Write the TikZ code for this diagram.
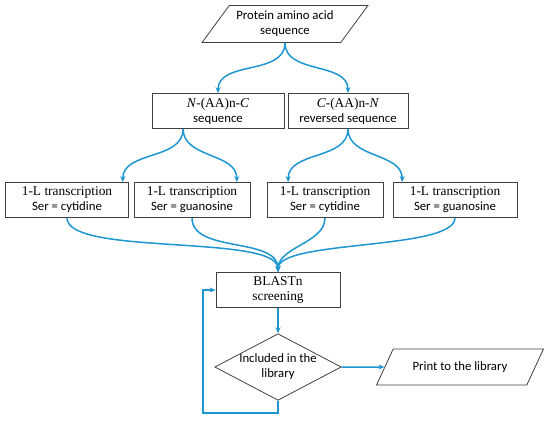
\documentclass[tikz,border=0pt]{standalone}
\usepackage{fontspec}
\setmainfont{Carlito}
\newfontfamily\tnr{Liberation Serif}[Scale=1.05]
\usetikzlibrary{shapes.geometric,arrows.meta}

\definecolor{flowblue}{RGB}{30,150,210}
\definecolor{edgegray}{RGB}{64,64,64}

\begin{document}
\begin{tikzpicture}[
    x=1bp, y=-1bp,
    every node/.style={font=\fontsize{12.8}{15}\selectfont, align=center},
    box/.style={rectangle, draw=edgegray, fill=white, line width=0.8bp,
                minimum height=35bp, inner sep=1bp},
    io/.style={trapezium, trapezium left angle=49, trapezium right angle=131,
               trapezium stretches=true, draw=edgegray, line width=0.8bp,
               minimum width=166bp, minimum height=37bp, inner sep=1bp},
    test/.style={diamond, draw=edgegray, line width=0.8bp, aspect=1.9,
                 minimum width=126bp, minimum height=66bp, inner sep=0pt},
    flow/.style={draw=flowblue, line width=1.5bp},
    tip/.style={-{Stealth[length=6bp,width=5bp]}}
]

    \useasboundingbox (0,0) rectangle (550,422);

    % input
    \node[io] (prot) at (285,24) {Protein amino acid\\sequence};

    % both reading directions
    \node[box, minimum width=132bp] (nc) at (218,111)
        {{\tnr\textit{N}-(AA)n-\textit{C}}\\sequence};
    \node[box, minimum width=120bp] (cn) at (348,111)
        {{\tnr\textit{C}-(AA)n-\textit{N}}\\reversed sequence};

    % transcriptions
    \node[box, minimum width=123bp] (t1) at (67,200)
        {{\tnr 1-L transcription}\\Ser = cytidine};
    \node[box, minimum width=116bp] (t2) at (192,200)
        {{\tnr 1-L transcription}\\Ser = guanosine};
    \node[box, minimum width=116bp] (t3) at (325,200)
        {{\tnr 1-L transcription}\\Ser = cytidine};
    \node[box, minimum width=124bp] (t4) at (455,200)
        {{\tnr 1-L transcription}\\Ser = guanosine};

    % screening
    \node[box, minimum width=124bp] (blast) at (278,290)
        {\tnr BLASTn\\\tnr screening};
    \node[test] (incl) at (278,367) {Included in the\\library};
    \node[io, trapezium left angle=47, trapezium right angle=133,
          minimum width=167bp, minimum height=36bp] (print) at (460,367)
        {Print to the library};
    \coordinate (loop) at (203,413);

    % braces
    \draw[flow, tip] (prot.south) to[out=-90, in=90] (nc.north);
    \draw[flow, tip] (prot.south) to[out=-90, in=90] (cn.north);
    \draw[flow, tip] ([xshift=-35]nc.south) to[out=-90, in=90] ([xshift=56]t1.north);
    \draw[flow, tip] ([xshift=-35]nc.south) to[out=-90, in=90] ([xshift=45]t2.north);
    \draw[flow, tip] (cn.south) to[out=-90, in=90] ([xshift=-37]t3.north);
    \draw[flow, tip] (cn.south) to[out=-90, in=90] ([xshift=-53]t4.north);

    % merge into BLASTn
    \draw[flow, tip] (t1.south) to[out=-90, in=90, looseness=0.45] (blast.north);
    \draw[flow, tip] (t2.south) to[out=-90, in=90, looseness=0.9] (blast.north);
    \draw[flow, tip] (t3.south) to[out=-90, in=90, looseness=0.9] (blast.north);
    \draw[flow, tip] (t4.south) to[out=-90, in=90, looseness=0.45] (blast.north);

    \draw[flow, tip] (blast.south) -- (incl.north);
    \draw[flow, tip] (incl.east) -- (print.west);
    \draw[flow, tip] (incl.south) |- (loop) |- (blast.west);

\end{tikzpicture}
\end{document}
